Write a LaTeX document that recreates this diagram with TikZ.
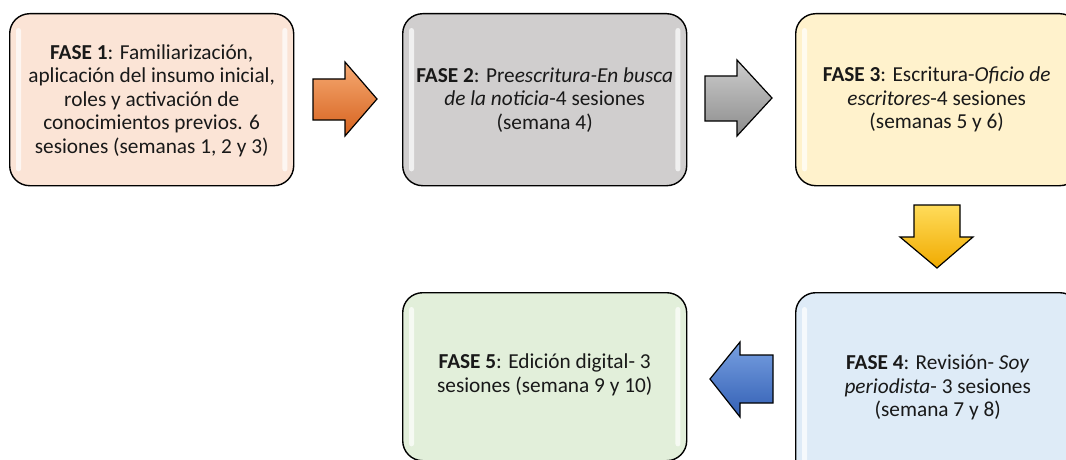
\documentclass[tikz,border=0pt]{standalone}
\usepackage{fontspec}
\setmainfont{Carlito}
\begin{document}
\begin{tikzpicture}[x=1pt,y=-1pt,
  phase/.style={draw=black,line width=1.4pt,rounded corners=20pt,
    minimum width=284pt,minimum height=172pt,anchor=north west},
  label/.style={align=center,font=\fontsize{21.3}{23.5}\selectfont,text=black!90},
  gloss/.style={fill=white,fill opacity=0.7,draw=none,rounded corners=2.5pt},
  barrow/.style={draw=black,line width=1.2pt,line join=miter}]
\definecolor{c1}{RGB}{251,228,214}
\definecolor{c2}{RGB}{208,206,206}
\definecolor{c3}{RGB}{255,242,204}
\definecolor{c4}{RGB}{222,235,247}
\definecolor{c5}{RGB}{226,239,218}
\useasboundingbox (0,0) rectangle (1066,460);
\clip (0,0) rectangle (1066,460);
% boxes
\node[phase,fill=c1] (b1) at (9,13) {};
\node[phase,fill=c2] (b2) at (402,13) {};
\node[phase,fill=c3] (b3) at (795,13) {};
\node[phase,fill=c4,minimum height=190pt] (b4) at (795,292) {};
\node[phase,fill=c5,minimum height=168pt] (b5) at (402,292) {};
% gloss highlights
\foreach \b in {b1,b2,b3,b4,b5}{
  \fill[gloss] ([xshift=7pt,yshift=-15pt]\b.north west) rectangle ([xshift=12pt,yshift=15pt]\b.south west);
  \fill[gloss] ([xshift=-12pt,yshift=-15pt]\b.north east) rectangle ([xshift=-7pt,yshift=15pt]\b.south east);
}
% texts
\node[label] (t1) at ([yshift=-1pt]b1.center) {\textbf{FASE 1}: Familiarización,\\aplicación del insumo inicial,\\roles y activación de\\conocimientos previos. 6\\sesiones (semanas 1, 2 y 3)};
\node[label] (t2) at (b2.center) {\textbf{FASE 2}: Pre\textit{escritura-En busca}\\\textit{de la noticia}-4 sesiones\\(semana 4)};
\node[label] (t3) at ([xshift=-1pt]b3.center) {\textbf{FASE 3}: Escritura-\textit{Oficio de}\\\textit{escritores}-4 sesiones\\(semanas 5 y 6)};
\node[label] (t4) at (b4.center) {\textbf{FASE 4}: Revisión- \textit{Soy}\\\textit{periodista}- 3 sesiones\\(semana 7 y 8)};
\node[label] (t5) at ([yshift=2pt]b5.center) {\textbf{FASE 5}: Edición digital- 3\\sesiones (semana 9 y 10)};
% block arrows
\shade[barrow,top color={rgb,255:red,246;green,170;blue,115},bottom color={rgb,255:red,214;green,98;blue,30}]
  (313,79) -- (345,79) -- (345,62) -- (377,99) -- (345,136) -- (345,120) -- (313,120) -- cycle;
\shade[barrow,top color={rgb,255:red,205;green,205;blue,205},bottom color={rgb,255:red,140;green,140;blue,140}]
  (705,76) -- (737,76) -- (737,60) -- (772,98) -- (737,136) -- (737,121) -- (705,121) -- cycle;
\shade[barrow,top color={rgb,255:red,255;green,220;blue,90},bottom color={rgb,255:red,240;green,170;blue,0}]
  (914,205) -- (960,205) -- (960,237) -- (973,237) -- (937,268) -- (900,237) -- (914,237) -- cycle;
\shade[barrow,top color={rgb,255:red,120;green,160;blue,225},bottom color={rgb,255:red,50;green,95;blue,180}]
  (773,355) -- (740,355) -- (740,342) -- (710,379) -- (740,417) -- (740,403) -- (773,403) -- cycle;
\end{tikzpicture}
\end{document}
